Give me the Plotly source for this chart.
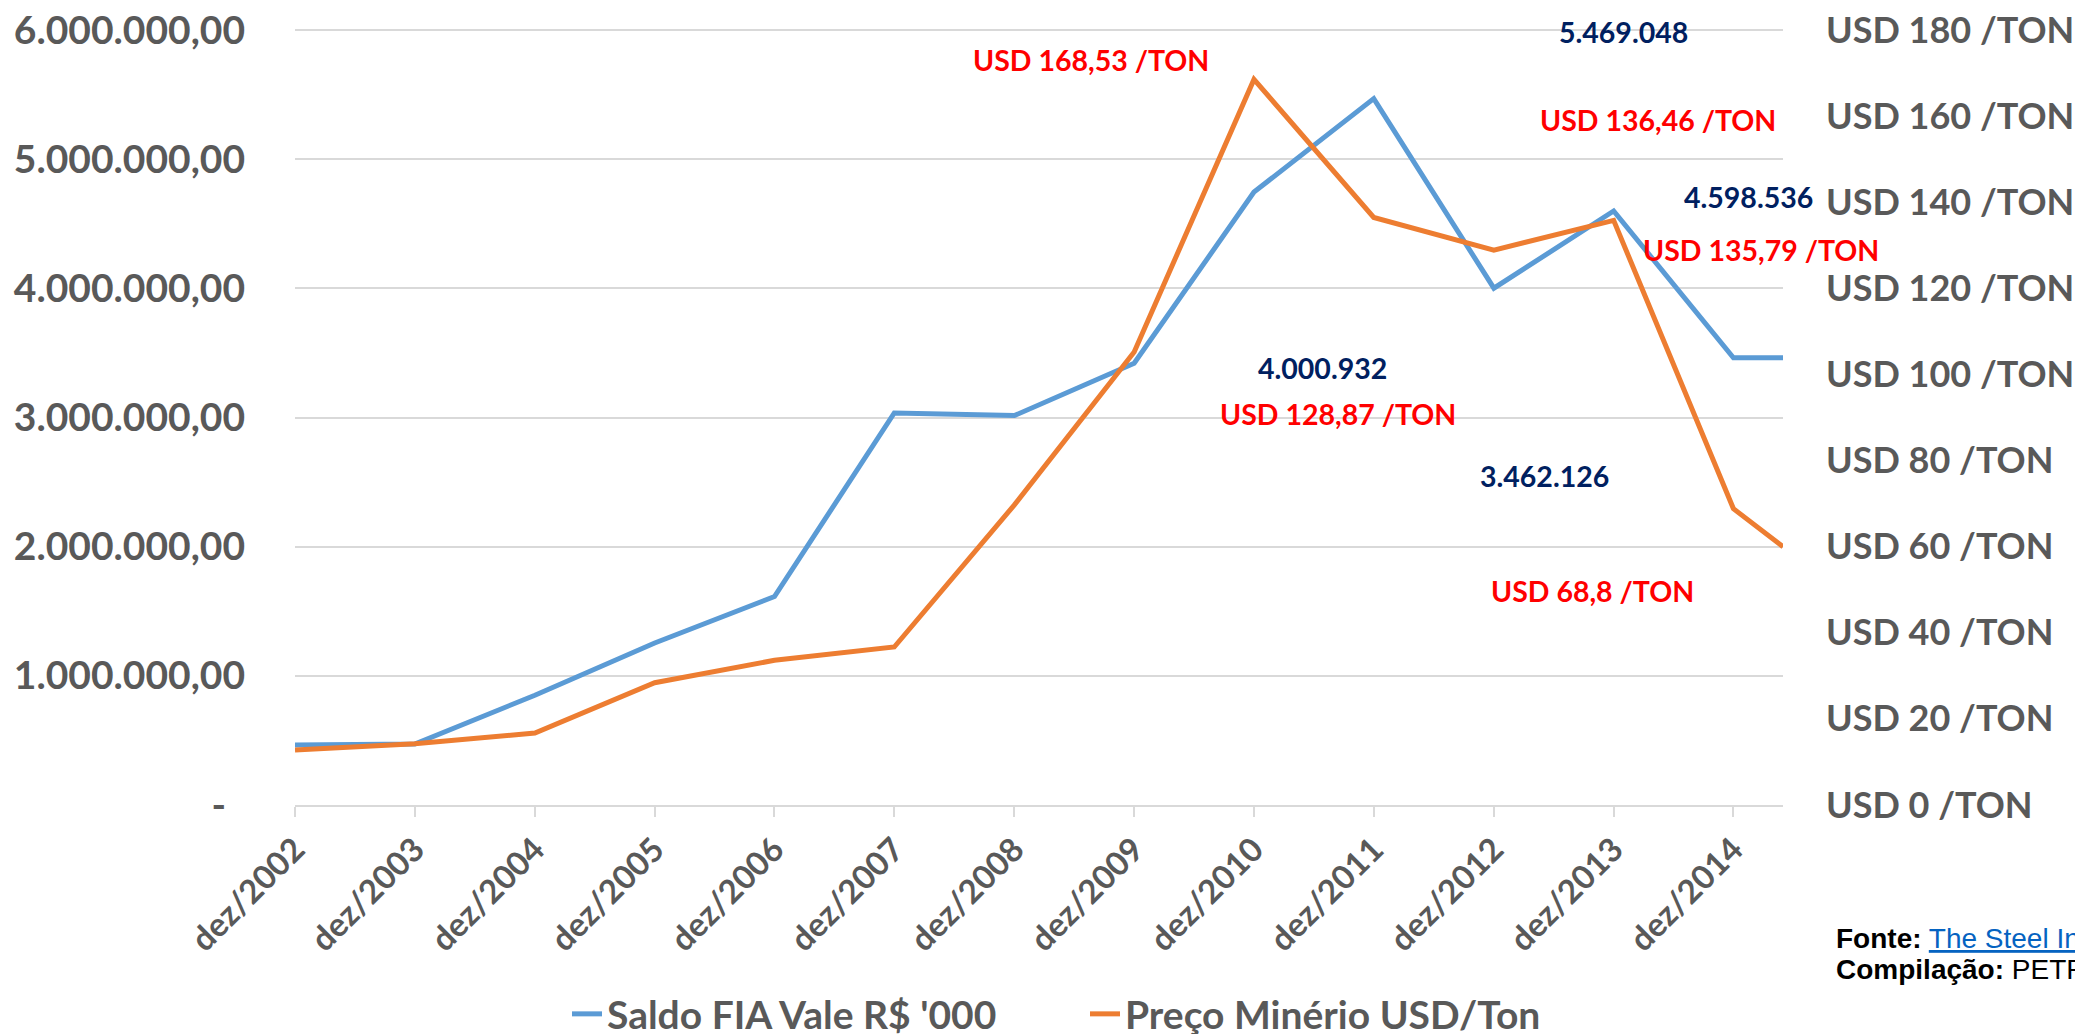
import plotly.graph_objects as go

# ---------------- data ----------------
dates = ["2002-12-01", "2003-12-01", "2004-12-01", "2005-12-01", "2006-12-01",
         "2007-12-01", "2008-12-01", "2009-12-01", "2010-12-01", "2011-12-01",
         "2012-12-01", "2013-12-01", "2014-12-01", "2015-05-01"]
saldo_fia = [464000, 472000, 850000, 1254000, 1614000, 3035000, 3015000,
             3420000, 4745000, 5469048, 4000932, 4598536, 3462126, 3462126]
preco_minerio = [12.8, 14.2, 16.7, 28.4, 33.6, 36.7, 69.7, 105.2, 168.53,
                 136.46, 128.87, 135.79, 68.8, 60.0]

tick_dates = dates[:13]
tick_labels = ["dez/%s" % d[:4] for d in tick_dates]

left_vals = [0, 1000000, 2000000, 3000000, 4000000, 5000000, 6000000]
left_text = ["-\u00a0\u00a0", "1.000.000,00", "2.000.000,00", "3.000.000,00",
             "4.000.000,00", "5.000.000,00", "6.000.000,00"]
right_vals = [0, 20, 40, 60, 80, 100, 120, 140, 160, 180]
right_text = ["USD %d /TON" % v for v in right_vals]

series_names = ["Saldo FIA Vale R$ '000", "Preço Minério USD/Ton"]

# callout texts
blue_labels = ["5.469.048", "4.598.536", "4.000.932", "3.462.126"]
red_labels = ["USD 168,53 /TON", "USD 136,46 /TON", "USD 135,79 /TON",
              "USD 128,87 /TON", "USD 68,8 /TON"]

# ---------------- layout geometry (page pixels) ----------------
OFF = 8                      # default body margin of the html page
PW, PH = 2083, 1034
W, H = PW - OFF, PH - OFF
L, R, T, B = 295, 1783, 26, 805   # plot area on the page
Y6 = 30                            # page y of the 6M / 180 gridline
top_scale = (B - T) / (B - Y6)


def px(xp, yp):
    return (xp - L) / (R - L), (B - yp) / (B - T)


AX = "#595959"
FONT = "Lato"

fig = go.Figure()
fig.add_trace(go.Scatter(x=dates, y=saldo_fia, name=series_names[0], mode="lines",
                         line=dict(color="#5B9BD5", width=5), yaxis="y"))
fig.add_trace(go.Scatter(x=dates, y=preco_minerio, name=series_names[1], mode="lines",
                         line=dict(color="#ED7D31", width=5), yaxis="y2"))

ann = []
blue_pos = [(1623, 32), (1748, 197), (1322, 368), (1544, 476)]
red_pos = [(1091, 60), (1658, 120), (1761, 250), (1338, 414), (1592, 591)]
for t, (xp, yp) in zip(blue_labels, blue_pos):
    x, y = px(xp, yp)
    ann.append(dict(text=t, x=x, y=y, xref="paper", yref="paper", showarrow=False,
                    xanchor="center", yanchor="middle",
                    font=dict(family=FONT, size=28.5, color="#002060", weight=700)))
for t, (xp, yp) in zip(red_labels, red_pos):
    x, y = px(xp, yp)
    ann.append(dict(text=t, x=x, y=y, xref="paper", yref="paper", showarrow=False,
                    xanchor="center", yanchor="middle",
                    font=dict(family=FONT, size=28.5, color="#FF0000", weight=700)))

# footer
fx, fy1 = px(1834, 939)
_, fy2 = px(1834, 969)
ann.append(dict(text="<b>Fonte:</b> <span style='color:#0563C1'><u>The Steel Index</u></span>",
                x=fx, y=fy1, xref="paper", yref="paper", showarrow=False,
                xanchor="left", yanchor="middle",
                font=dict(family="Liberation Sans, Arial", size=28, color="#000000")))
ann.append(dict(text="<b>Compilação:</b> PETR",
                x=fx, y=fy2, xref="paper", yref="paper", showarrow=False,
                xanchor="left", yanchor="middle",
                font=dict(family="Liberation Sans, Arial", size=28, color="#000000")))

fig.update_layout(
    width=W, height=H,
    margin=dict(l=L - OFF, r=W - (R - OFF), t=T - OFF, b=H - (B - OFF), pad=0,
                autoexpand=False),
    paper_bgcolor="white", plot_bgcolor="white",
    font=dict(family=FONT, color=AX),
    showlegend=True,
    legend=dict(orientation="h", xref="container", yref="container",
                x=(567 - OFF) / W, xanchor="left", y=1 - (1014 - OFF) / H, yanchor="middle",
                font=dict(family=FONT, size=39, color=AX, weight=700),
                entrywidth=473, bgcolor="rgba(0,0,0,0)"),
    xaxis=dict(type="date", range=[dates[0], dates[-1]], automargin=False,
               tickmode="array", tickvals=tick_dates, ticktext=tick_labels,
               tickangle=-45, ticks="outside", ticklen=10, tickwidth=2,
               tickcolor="#D9D9D9", showline=True, linecolor="#D9D9D9", linewidth=2,
               showgrid=False, zeroline=False, ticklabeloverflow="allow",
               tickfont=dict(family=FONT, size=33, color=AX, weight=700)),
    yaxis=dict(range=[0, 6000000 * top_scale], tickmode="array", tickvals=left_vals,
               ticktext=left_text, automargin=False, ticklabeloverflow="allow",
               showgrid=True, gridcolor="#D9D9D9", gridwidth=2, zeroline=False,
               showline=False, ticks="", ticklabelstandoff=49,
               tickfont=dict(family=FONT, size=39, color=AX, weight=700)),
    yaxis2=dict(range=[0, 180 * top_scale], overlaying="y", side="right", tickmode="array",
                tickvals=right_vals, ticktext=right_text, showgrid=False, zeroline=False,
                showline=False, ticks="", ticklabelstandoff=42, automargin=False,
                ticklabeloverflow="allow",
                tickfont=dict(family=FONT, size=36, color=AX, weight=700)),
    annotations=ann,
)

fig.write_html("out.html")
